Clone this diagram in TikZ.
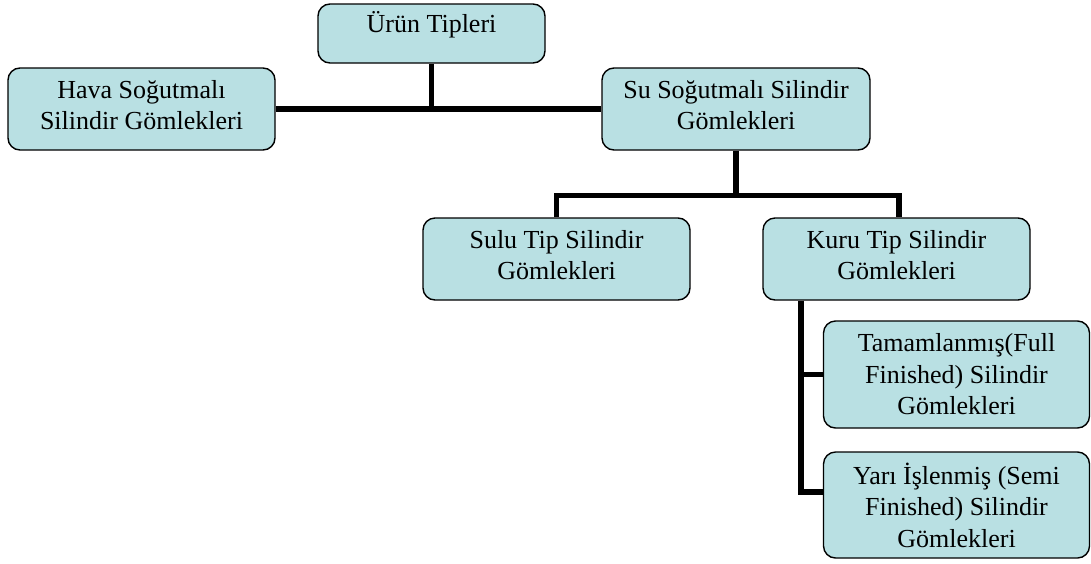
\documentclass[tikz,border=0pt]{standalone}
\usepackage{fontspec}
\setmainfont{Liberation Serif}
\definecolor{boxfill}{RGB}{185,224,227}
\begin{document}
\begin{tikzpicture}[x=1pt,y=-1pt,
  box/.style={draw=black, line width=1.4pt, fill=boxfill, rounded corners=12pt, inner sep=0pt},
  txt/.style={align=center, inner sep=0pt, font=\fontsize{26}{31.5}\selectfont},
  conn/.style={draw=black, line width=5.5pt, line join=miter, line cap=butt}]
\useasboundingbox (0,0) rectangle (1091,563);
% boxes
\node[box, minimum width=227pt, minimum height=59pt] (urun) at (431.5,33.5) {};
\node[box, minimum width=267pt, minimum height=82pt] (hava) at (141.5,109) {};
\node[box, minimum width=268pt, minimum height=82pt] (su) at (736,109) {};
\node[box, minimum width=267pt, minimum height=82pt] (sulu) at (556.5,259) {};
\node[box, minimum width=267pt, minimum height=82pt] (kuru) at (896.5,259) {};
\node[box, minimum width=266pt, minimum height=107pt] (tam) at (956.5,374.5) {};
\node[box, minimum width=266pt, minimum height=106pt] (yari) at (956.5,505) {};
% texts
\node[txt, anchor=base] (urunt) at (431.5,32) {Ürün Tipleri};
\node[txt] (havat) at ([yshift=4pt]hava.center) {Hava Soğutmalı\\Silindir Gömlekleri};
\node[txt] (sut) at ([yshift=4pt]su.center) {Su Soğutmalı Silindir\\Gömlekleri};
\node[txt] (sulut) at ([yshift=4pt]sulu.center) {Sulu Tip Silindir\\Gömlekleri};
\node[txt] (kurut) at ([yshift=4pt]kuru.center) {Kuru Tip Silindir\\Gömlekleri};
\node[txt] (tamt) at (tam.center) {Tamamlanmış(Full\\Finished) Silindir\\Gömlekleri};
\node[txt] (yarit) at (yari.center) {Yarı İşlenmiş (Semi\\Finished) Silindir\\Gömlekleri};
% connectors
\draw[conn] (urun.south) -- (urun.south |- hava.east);
\draw[conn] (hava.east) -- (su.west);
\coordinate (j1) at ([yshift=-45pt]su.south);
\draw[conn] (su.south) -- (j1);
\draw[conn] (sulu.north) |- ([xshift=2.5pt]kuru.north |- j1) -- ([xshift=2.5pt]kuru.north);
\coordinate (k0) at ([xshift=-95.5pt]kuru.south);
\draw[conn] (k0) |- ([yshift=13pt]yari.west);
\draw[conn] (tam.west) -- (tam.west -| k0);
\end{tikzpicture}
\end{document}
